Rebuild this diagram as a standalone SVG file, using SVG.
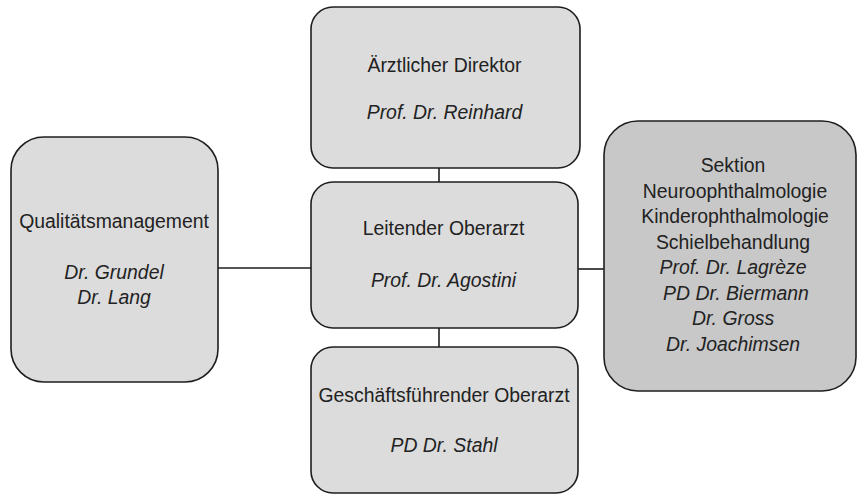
<svg xmlns="http://www.w3.org/2000/svg" width="858" height="496" viewBox="0 0 858 496">
<style>
.box{fill:#dcdcdc;stroke:#1e1e1e;stroke-width:1.6}
.dark{fill:#c8c8c8}
.t{font-family:"Liberation Sans",Arial,sans-serif;font-size:19.4px;fill:#222;text-anchor:middle}
.i{font-style:italic}
.c{stroke:#1e1e1e;stroke-width:1.6;fill:none}
</style>
<rect width="858" height="496" fill="#fff"/>
<g id="connectors">
<line class="c" x1="439" y1="168" x2="439" y2="182"/>
<line class="c" x1="439" y1="328" x2="439" y2="347"/>
<line class="c" x1="218" y1="268" x2="311" y2="268"/>
<line class="c" x1="578" y1="269" x2="604" y2="269"/>
</g>
<g id="direktor">
<rect class="box" x="311" y="7" width="269" height="161" rx="22"/>
<text class="t" x="444.5" y="71.5">Ärztlicher Direktor</text>
<text class="t i" x="444.5" y="119">Prof. Dr. Reinhard</text>
</g>
<g id="leitender">
<rect class="box" x="311" y="182" width="267" height="146" rx="22"/>
<text class="t" x="443.5" y="235">Leitender Oberarzt</text>
<text class="t i" x="443.5" y="287">Prof. Dr. Agostini</text>
</g>
<g id="geschaeftsfuehrender">
<rect class="box" x="311" y="347" width="267" height="146" rx="22"/>
<text class="t" x="444" y="402">Geschäftsführender Oberarzt</text>
<text class="t i" x="444" y="452">PD Dr. Stahl</text>
</g>
<g id="qualitaet">
<rect class="box" x="11" y="137" width="207" height="245" rx="33"/>
<text class="t" x="114" y="228">Qualitätsmanagement</text>
<text class="t i" x="114" y="279">Dr. Grundel</text>
<text class="t i" x="114" y="304">Dr. Lang</text>
</g>
<g id="sektion">
<rect class="box dark" x="604" y="121" width="252" height="270" rx="34"/>
<text class="t" x="733" y="172">Sektion</text>
<text class="t" x="735" y="197.5">Neuroophthalmologie</text>
<text class="t" x="735" y="223">Kinderophthalmologie</text>
<text class="t" x="733" y="248.5">Schielbehandlung</text>
<text class="t i" x="733" y="274">Prof. Dr. Lagrèze</text>
<text class="t i" x="736" y="299.5">PD Dr. Biermann</text>
<text class="t i" x="733" y="325">Dr. Gross</text>
<text class="t i" x="733" y="350.5">Dr. Joachimsen</text>
</g>
</svg>
